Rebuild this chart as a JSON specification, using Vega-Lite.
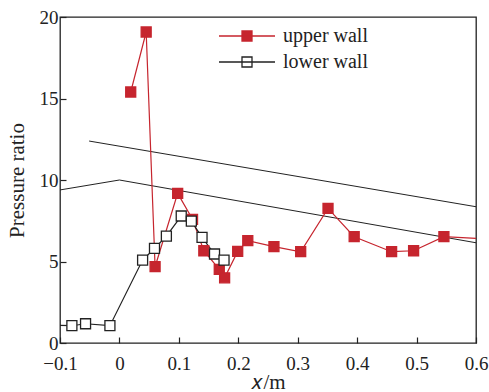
{
  "$schema": "https://vega.github.io/schema/vega-lite/v6.json",
  "width": 416,
  "height": 326,
  "autosize": {"type": "none"},
  "padding": {"left": 60, "top": 17, "right": 13, "bottom": 49},
  "background": "white",
  "config": {
    "font": "Liberation Serif",
    "view": {"stroke": "#222", "strokeWidth": 1.3},
    "axis": {
      "domain": false,
      "grid": false,
      "ticks": true,
      "tickColor": "#222",
      "tickSize": -6,
      "tickWidth": 1.2,
      "labelFlush": false,
      "labelFont": "Liberation Serif",
      "labelFontSize": 19,
      "labelColor": "#222",
      "titleFont": "Liberation Serif",
      "titleFontSize": 21,
      "titleFontWeight": "normal",
      "titleColor": "#222"
    }
  },
  "datasets": {
    "walls": [
      {"series": "upper wall", "x": 0.019, "y": 15.4},
      {"series": "upper wall", "x": 0.045, "y": 19.08},
      {"series": "upper wall", "x": 0.060, "y": 4.68},
      {"series": "upper wall", "x": 0.098, "y": 9.18},
      {"series": "upper wall", "x": 0.123, "y": 7.59},
      {"series": "upper wall", "x": 0.142, "y": 5.66},
      {"series": "upper wall", "x": 0.168, "y": 4.52},
      {"series": "upper wall", "x": 0.177, "y": 4.0},
      {"series": "upper wall", "x": 0.199, "y": 5.62},
      {"series": "upper wall", "x": 0.216, "y": 6.28},
      {"series": "upper wall", "x": 0.260, "y": 5.91},
      {"series": "upper wall", "x": 0.305, "y": 5.6},
      {"series": "upper wall", "x": 0.351, "y": 8.26},
      {"series": "upper wall", "x": 0.395, "y": 6.52},
      {"series": "upper wall", "x": 0.458, "y": 5.6},
      {"series": "upper wall", "x": 0.495, "y": 5.66},
      {"series": "upper wall", "x": 0.546, "y": 6.52},
      {"series": "upper wall", "x": 0.625, "y": 6.37},
      {"series": "lower wall", "x": -0.12, "y": 1.1},
      {"series": "lower wall", "x": -0.080, "y": 1.06},
      {"series": "lower wall", "x": -0.057, "y": 1.18},
      {"series": "lower wall", "x": -0.016, "y": 1.06},
      {"series": "lower wall", "x": 0.039, "y": 5.09},
      {"series": "lower wall", "x": 0.059, "y": 5.8},
      {"series": "lower wall", "x": 0.079, "y": 6.56},
      {"series": "lower wall", "x": 0.104, "y": 7.79},
      {"series": "lower wall", "x": 0.121, "y": 7.48},
      {"series": "lower wall", "x": 0.139, "y": 6.48},
      {"series": "lower wall", "x": 0.160, "y": 5.46},
      {"series": "lower wall", "x": 0.176, "y": 5.09}
    ],
    "geometry": [
      {"line": "A", "x": -0.051, "y": 12.39},
      {"line": "A", "x": 0.6, "y": 8.36},
      {"line": "B", "x": -0.1, "y": 9.39},
      {"line": "B", "x": 0.0, "y": 10.0},
      {"line": "B", "x": 0.6, "y": 6.15}
    ]
  },
  "layer": [
    {
      "data": {"name": "geometry"},
      "mark": {"type": "line", "color": "#222", "strokeWidth": 1, "clip": true},
      "encoding": {
        "x": {"field": "x", "type": "quantitative", "scale": {"domain": [-0.1, 0.6]},
              "axis": {"values": [-0.1, 0, 0.1, 0.2, 0.3, 0.4, 0.5, 0.6], "format": "~g", "title": "𝑥/m", "labelPadding": 17, "titlePadding": -2}},
        "y": {"field": "y", "type": "quantitative", "scale": {"domain": [0, 20]},
              "axis": {"values": [0, 5, 10, 15, 20], "title": "Pressure ratio", "labelPadding": 8, "titlePadding": 12}},
        "detail": {"field": "line"}
      }
    },
    {
      "data": {"name": "walls"},
      "mark": {"type": "line", "strokeWidth": 1.2, "clip": true},
      "encoding": {
        "x": {"field": "x", "type": "quantitative"},
        "y": {"field": "y", "type": "quantitative"},
        "stroke": {"field": "series", "type": "nominal",
                   "scale": {"domain": ["upper wall", "lower wall"], "range": ["#c6252e", "#222222"]},
                   "legend": {
                     "title": null,
                     "orient": "none",
                     "legendX": 177,
                     "legendY": 9,
                     "symbolType": "M-5.6,0H5.6M-1,-1H1V1H-1Z",
                     "symbolSize": 100,
                     "symbolStrokeWidth": 1.3,
                     "labelFont": "Liberation Serif",
                     "labelFontSize": 20,
                     "labelColor": "#222",
                     "labelOffset": 26,
                     "rowPadding": 6,
                     "encode": {"symbols": {"update": {"fill": {"signal": "datum.value == 'upper wall' ? '#c6252e' : 'white'"}, "opacity": {"value": 1}}}}
                   }}
      }
    },
    {
      "data": {"name": "walls"},
      "mark": {"type": "point", "shape": "square", "size": 100, "strokeWidth": 1.3, "opacity": 1, "clip": true},
      "encoding": {
        "x": {"field": "x", "type": "quantitative"},
        "y": {"field": "y", "type": "quantitative"},
        "stroke": {"field": "series", "type": "nominal"},
        "fill": {"field": "series", "type": "nominal",
                 "scale": {"domain": ["upper wall", "lower wall"], "range": ["#c6252e", "white"]},
                 "legend": null}
      }
    }
  ]
}
